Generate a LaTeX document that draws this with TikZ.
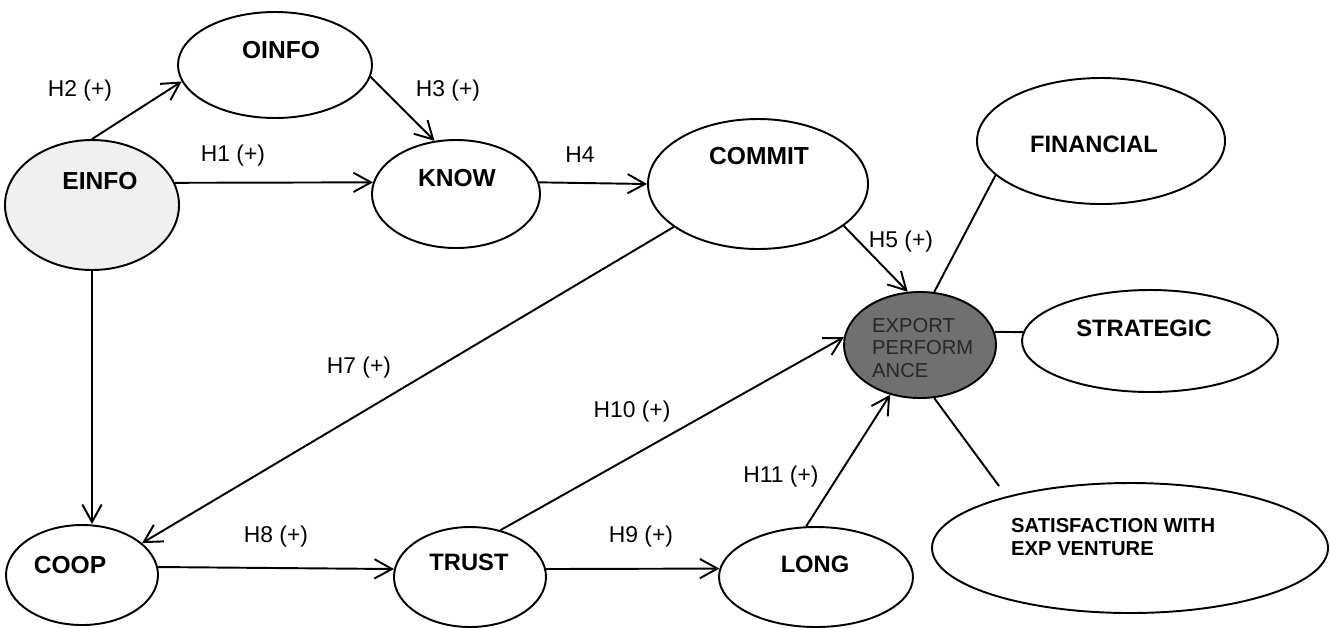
\documentclass[tikz,border=0pt]{standalone}
\usepackage{fontspec}
\setmainfont{Liberation Sans}
\usetikzlibrary{arrows.meta,shapes.geometric}

\begin{document}
\begin{tikzpicture}
  [x=.02cm,y=-.02cm,
   var/.style={shape=ellipse, draw, line width=1.1pt, inner sep=0pt},
   dims/.style 2 args={minimum width=#1*.02cm, minimum height=#2*.02cm},
   vtext/.style={font=\fontsize{14}{16}\selectfont\bfseries},
   hyp/.style={font=\fontsize{13}{15}\selectfont}]
  \useasboundingbox (0,0) rectangle (1331,627);
  % constructs
  \node[var, dims={174}{130}, fill=black!6] (einfo) at (92,205) {};
  \node[var, dims={194}{106}] (oinfo) at (275,65) {};
  \node[var, dims={168}{108}] (know) at (456,194) {};
  \node[var, dims={220}{130}] (commit) at (758,184) {};
  \node[var, dims={248}{126}] (fin) at (1101,141) {};
  \node[var, dims={152}{106}, fill=black!56] (exp) at (920,345) {};
  \node[var, dims={256}{102}] (strat) at (1150,341) {};
  \node[var, dims={396}{130}] (sat) at (1130,548) {};
  \node[var, dims={152}{100}] (coop) at (82,575) {};
  \node[var, dims={152}{100}] (trust) at (470,577) {};
  \node[var, dims={194}{100}] (long) at (816,577) {};
  \coordinate (satend) at (999,486);
  % texts
  \node[vtext] (einfo-t) at (100,181) {EINFO};
  \node[vtext] (oinfo-t) at (281,50) {OINFO};
  \node[vtext] (know-t) at (457,178) {KNOW};
  \node[vtext] (commit-t) at (759,156) {COMMIT};
  \node[vtext, font=\fontsize{13.5}{16}\selectfont\bfseries] (fin-t) at (1094,144) {FINANCIAL};
  \node[vtext, font=\fontsize{13.5}{16}\selectfont\bfseries] (strat-t) at (1144,328) {STRATEGIC};
  \node[anchor=west, align=left, text=black!85, font=\fontsize{11.5}{13}\selectfont] (exp-t) at (866,348) {EXPORT\\PERFORM\\ANCE};
  \node[anchor=west, align=left, font=\fontsize{11.5}{12.7}\selectfont\bfseries] (sat-t) at (1005,537) {SATISFACTION WITH\\EXP VENTURE};
  \node[vtext] (coop-t) at (70,565) {COOP};
  \node[vtext, font=\fontsize{13.5}{16}\selectfont\bfseries] (trust-t) at (469,562) {TRUST};
  \node[vtext, font=\fontsize{13.5}{16}\selectfont\bfseries] (long-t) at (815,564) {LONG};
  % hypotheses
  \node[hyp] (h1) at (233,156) {H1 (+)};
  \node[hyp] (h2) at (80,91) {H2 (+)};
  \node[hyp] (h3) at (448,91) {H3 (+)};
  \node[hyp] (h4) at (580,155) {H4};
  \node[hyp] (h5) at (901,242) {H5 (+)};
  \node[hyp] (h7) at (359,368) {H7 (+)};
  \node[hyp] (h8) at (276,537) {H8 (+)};
  \node[hyp] (h9) at (641,537) {H9 (+)};
  \node[hyp] (h10) at (632,412) {H10 (+)};
  \node[hyp] (h11) at (781,477) {H11 (+)};
  \begin{scope}[line width=1.1pt, -{Straight Barb[length=10pt,width=11pt]}]
  \foreach \from/\to in {einfo.north/oinfo.190, oinfo.353/know.112, einfo.15/know.172,
      know.8/commit.180, commit.334/exp.103, commit.207/coop.28, coop.6/trust.174,
      trust.6/long.175, trust.57/exp.174, long.101/exp.239}
     \draw (\from) -- (\to);
  \draw (einfo.south) -- (coop.north -| einfo.south);
  \end{scope}
  \begin{scope}[line width=1.1pt]
  \foreach \from/\to in {fin.198/exp.75, exp.10/strat.176, exp.285/satend}
     \draw (\from) -- (\to);
  \end{scope}
\end{tikzpicture}
\end{document}
